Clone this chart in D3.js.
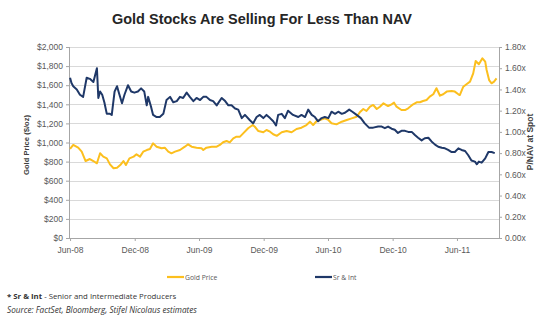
<!DOCTYPE html>
<html>
<head>
<meta charset="utf-8">
<title>Gold Stocks Are Selling For Less Than NAV</title>
<script src="https://d3js.org/d3.v7.min.js"></script>
<style>
  body { margin: 0; background: #fff; }
  text { font-family: "Liberation Sans", Arial, sans-serif; }
  .axis text { font-size: 8.5px; fill: #595959; }
  .grid line { stroke: #d9d9d9; stroke-width: 1; }
  .note { font-family: "Open Sans", sans-serif; fill: #333; }
</style>
</head>
<body>
<script>
// gold price, $/oz
var goldDates = ["2008-06-01","2008-06-10","2008-06-24","2008-07-04","2008-07-15","2008-07-27","2008-08-06","2008-08-16","2008-08-25","2008-09-03",
  "2008-09-13","2008-09-22","2008-10-02","2008-10-12","2008-10-21","2008-10-30","2008-11-06","2008-11-16","2008-11-28","2008-12-06",
  "2008-12-16","2008-12-25","2009-01-04","2009-01-13","2009-01-22","2009-02-01","2009-02-15","2009-02-24","2009-03-06","2009-03-15",
  "2009-03-25","2009-04-08","2009-04-22","2009-05-01","2009-05-11","2009-05-25","2009-06-08","2009-06-13","2009-06-22","2009-07-07",
  "2009-07-21","2009-07-30","2009-08-08","2009-08-18","2009-08-27","2009-09-06","2009-09-15","2009-09-25","2009-10-04","2009-10-18",
  "2009-10-31","2009-11-06","2009-11-16","2009-11-30","2009-12-09","2009-12-19","2009-12-28","2010-01-07","2010-01-21","2010-02-04",
  "2010-02-18","2010-03-04","2010-03-18","2010-04-01","2010-04-11","2010-04-20","2010-04-30","2010-05-09","2010-05-23","2010-06-02",
  "2010-06-11","2010-06-25","2010-07-10","2010-07-24","2010-08-07","2010-08-21","2010-08-30","2010-09-09","2010-09-18","2010-09-28",
  "2010-10-07","2010-10-17","2010-10-26","2010-11-05","2010-11-18","2010-11-28","2010-12-05","2010-12-12","2010-12-26","2011-01-05",
  "2011-01-14","2011-01-28","2011-02-07","2011-02-16","2011-02-25","2011-03-07","2011-03-16","2011-03-26","2011-04-04","2011-04-14",
  "2011-04-23","2011-05-03","2011-05-17","2011-05-26","2011-06-05","2011-06-09","2011-06-19","2011-06-28","2011-07-08","2011-07-17",
  "2011-07-24","2011-08-02","2011-08-12","2011-08-20","2011-08-24","2011-08-31","2011-09-07","2011-09-14","2011-09-21"];
var goldPrice = [932,974,946,904,806,827,806,782,887,852,
  834,771,730,736,764,806,764,834,852,876,
  852,904,921,932,991,956,939,946,904,887,
  904,921,956,981,956,946,939,921,946,956,
  956,974,1002,1016,1002,1044,1061,1061,1096,1149,
  1183,1165,1120,1107,1131,1113,1086,1070,1107,1120,
  1107,1141,1155,1183,1218,1183,1225,1236,1253,1236,
  1201,1190,1218,1236,1253,1270,1316,1351,1330,1375,
  1393,1351,1375,1410,1382,1400,1417,1375,1340,1340,
  1358,1400,1421,1421,1435,1445,1480,1505,1568,1490,
  1505,1533,1540,1533,1505,1497,1584,1610,1637,1724,
  1853,1819,1882,1846,1759,1654,1620,1637,1672];

// senior & intermediate producers, P/NAV at spot
var navDates = ["2008-06-01","2008-06-05","2008-06-10","2008-06-20","2008-06-29","2008-07-08","2008-07-18","2008-07-27","2008-08-06","2008-08-16",
  "2008-08-20","2008-08-25","2008-08-31","2008-09-06","2008-09-13","2008-09-22","2008-09-27","2008-10-05","2008-10-12","2008-10-18",
  "2008-10-26","2008-11-02","2008-11-12","2008-11-21","2008-11-30","2008-12-10","2008-12-19","2008-12-28","2009-01-04","2009-01-08",
  "2009-01-16","2009-01-22","2009-02-01","2009-02-10","2009-02-20","2009-03-01","2009-03-11","2009-03-20","2009-03-30","2009-04-08",
  "2009-04-17","2009-04-27","2009-05-06","2009-05-16","2009-05-25","2009-06-04","2009-06-13","2009-06-22","2009-07-02","2009-07-11",
  "2009-07-21","2009-08-04","2009-08-14","2009-08-23","2009-09-01","2009-09-11","2009-09-20","2009-09-30","2009-10-09","2009-10-23",
  "2009-11-01","2009-11-11","2009-11-20","2009-11-30","2009-12-09","2009-12-19","2009-12-28","2010-01-05","2010-01-11","2010-01-21",
  "2010-01-30","2010-02-08","2010-02-22","2010-03-09","2010-03-18","2010-03-28","2010-04-06","2010-04-16","2010-04-25","2010-05-04",
  "2010-05-14","2010-05-23","2010-06-02","2010-06-11","2010-06-21","2010-06-30","2010-07-10","2010-07-19","2010-07-31","2010-08-09",
  "2010-08-21","2010-09-02","2010-09-13","2010-09-25","2010-10-07","2010-10-21","2010-10-31","2010-11-09","2010-11-18","2010-11-28",
  "2010-12-07","2010-12-16","2010-12-26","2011-01-05","2011-01-14","2011-01-24","2011-02-02","2011-02-11","2011-02-21","2011-03-02",
  "2011-03-12","2011-03-21","2011-03-31","2011-04-09","2011-04-19","2011-04-28","2011-05-07","2011-05-17","2011-05-26","2011-06-05",
  "2011-06-14","2011-06-24","2011-07-03","2011-07-12","2011-07-22","2011-07-27","2011-08-02","2011-08-10","2011-08-20","2011-08-29",
  "2011-09-07","2011-09-16"];
var navValues = [1.51,1.46,1.43,1.40,1.35,1.33,1.51,1.50,1.47,1.60,
  1.32,1.38,1.35,1.28,1.17,1.17,1.16,1.38,1.43,1.36,
  1.27,1.35,1.44,1.38,1.37,1.38,1.41,1.38,1.25,1.33,
  1.24,1.16,1.14,1.14,1.17,1.30,1.33,1.28,1.29,1.33,
  1.32,1.37,1.33,1.29,1.32,1.30,1.33,1.33,1.30,1.29,
  1.25,1.32,1.29,1.25,1.25,1.22,1.21,1.13,1.16,1.11,
  1.08,1.14,1.16,1.13,1.16,1.13,1.10,1.06,1.16,1.17,
  1.13,1.20,1.16,1.14,1.16,1.14,1.21,1.16,1.14,1.10,
  1.13,1.14,1.13,1.19,1.17,1.19,1.17,1.18,1.21,1.19,
  1.16,1.13,1.08,1.04,1.04,1.05,1.05,1.035,1.05,1.03,
  1.02,0.99,1.01,1.01,1.00,1.00,0.97,0.945,0.92,0.94,
  0.945,0.91,0.88,0.86,0.85,0.845,0.83,0.81,0.81,0.845,
  0.83,0.82,0.78,0.73,0.72,0.695,0.72,0.71,0.75,0.81,
  0.81,0.80];

var leftTicks = [0,200,400,600,800,1000,1200,1400,1600,1800,2000];
var rightTicks = [0,0.2,0.4,0.6,0.8,1.0,1.2,1.4,1.6,1.8];
var xTickDates = ["2008-06-01","2008-12-01","2009-06-01","2009-12-01","2010-06-01","2010-12-01","2011-06-01"];

var parse = d3.timeParse("%Y-%m-%d");
var gold = goldDates.map(function(d, i) { return {date: parse(d), value: goldPrice[i]}; });
var nav = navDates.map(function(d, i) { return {date: parse(d), value: navValues[i]}; });

var width = 550, height = 321;
var plot = {left: 69, right: 499, top: 47, bottom: 238};

var svg = d3.select("body").append("svg")
  .attr("width", width)
  .attr("height", height);

svg.append("rect").attr("width", width).attr("height", height).attr("fill", "#fff");

var x = d3.scaleTime()
  .domain([parse("2008-05-29"), parse("2011-09-28")])
  .range([plot.left, plot.right]);

var y = d3.scaleLinear().domain([0, 2000]).range([plot.bottom, plot.top]);
var y2 = d3.scaleLinear().domain([0, 1.8]).range([plot.bottom, plot.top]);

// title
svg.append("text")
  .attr("x", 262)
  .attr("y", 24)
  .attr("text-anchor", "middle")
  .attr("textLength", 300)
  .attr("lengthAdjust", "spacingAndGlyphs")
  .style("font-size", "15px")
  .style("font-weight", "bold")
  .style("fill", "#262626")
  .text("Gold Stocks Are Selling For Less Than NAV");

// gridlines
svg.append("g")
  .attr("class", "grid")
  .selectAll("line")
  .data(leftTicks.slice(1))
  .enter().append("line")
  .attr("x1", plot.left).attr("x2", plot.right)
  .attr("y1", function(d) { return Math.round(y(d)) + 0.5; })
  .attr("y2", function(d) { return Math.round(y(d)) + 0.5; });

var yAxis = d3.axisLeft(y).tickValues(leftTicks).tickFormat(d3.format("$,")).tickSize(3).tickPadding(3);
var y2Axis = d3.axisRight(y2).tickValues(rightTicks).tickFormat(function(d) { return d.toFixed(2) + "x"; }).tickSize(3).tickPadding(3);
var xAxis = d3.axisBottom(x).tickValues(xTickDates.map(parse)).tickFormat(d3.timeFormat("%b-%y")).tickSize(3).tickPadding(6);

svg.append("g").attr("class", "axis").attr("transform", "translate(" + plot.left + ",0)").call(yAxis);
svg.append("g").attr("class", "axis").attr("transform", "translate(" + plot.right + ",0)").call(y2Axis);
svg.append("g").attr("class", "axis").attr("transform", "translate(0," + plot.bottom + ")").call(xAxis);

svg.selectAll(".axis line").attr("stroke", "#a6a6a6");
svg.selectAll(".axis .domain").remove();

// plain axis lines without the end stubs
svg.append("line").attr("x1", plot.left + 0.5).attr("x2", plot.left + 0.5).attr("y1", plot.top).attr("y2", plot.bottom).attr("stroke", "#a6a6a6");
svg.append("line").attr("x1", plot.right + 0.5).attr("x2", plot.right + 0.5).attr("y1", plot.top).attr("y2", plot.bottom).attr("stroke", "#a6a6a6");
svg.append("line").attr("x1", plot.left).attr("x2", plot.right + 1).attr("y1", plot.bottom + 0.5).attr("y2", plot.bottom + 0.5).attr("stroke", "#a6a6a6");

// axis titles
svg.append("text")
  .attr("transform", "translate(29,145) rotate(-90)")
  .attr("text-anchor", "middle")
  .style("font-size", "7.6px").style("font-weight", "bold").style("fill", "#404040")
  .text("Gold Price ($/oz)");

svg.append("text")
  .attr("transform", "translate(533,142) rotate(-90)")
  .attr("text-anchor", "middle")
  .style("font-size", "8.5px").style("font-weight", "bold").style("fill", "#404040")
  .text("P/NAV at Spot");

// lines
var goldLine = d3.line().x(function(d) { return x(d.date); }).y(function(d) { return y(d.value); });
var navLine = d3.line().x(function(d) { return x(d.date); }).y(function(d) { return y2(d.value); });

svg.append("path").datum(gold)
  .attr("d", goldLine)
  .attr("fill", "none").attr("stroke", "#fcbf1e").attr("stroke-width", 2).attr("stroke-linejoin", "round");

svg.append("path").datum(nav)
  .attr("d", navLine)
  .attr("fill", "none").attr("stroke", "#1f3868").attr("stroke-width", 2).attr("stroke-linejoin", "round");

// legend
var legend = [{name: "Gold Price", color: "#fcbf1e", x: 167}, {name: "Sr & Int", color: "#1f3868", x: 315}];
var lg = svg.selectAll(".legend").data(legend).enter().append("g")
  .attr("transform", function(d) { return "translate(" + d.x + ",277)"; });
lg.append("line").attr("x1", 0).attr("x2", 17).attr("stroke", function(d) { return d.color; }).attr("stroke-width", 2.2);
lg.append("text").attr("x", 18).attr("y", 2.5)
  .style("font-family", "Open Sans, sans-serif").style("font-size", "6.8px").style("fill", "#595959")
  .text(function(d) { return d.name; });

// footnotes
var note = svg.append("text").attr("class", "note").attr("x", 7).attr("y", 299).style("font-size", "7.8px");
note.append("tspan").style("font-weight", "bold").text("* Sr & Int");
note.append("tspan").text(" - Senior and Intermediate Producers");

svg.append("text").attr("class", "note").attr("x", 7).attr("y", 313)
  .style("font-size", "8.2px")
  .style("font-style", "italic")
  .text("Source: FactSet, Bloomberg, Stifel Nicolaus estimates");
</script>
</body>
</html>
